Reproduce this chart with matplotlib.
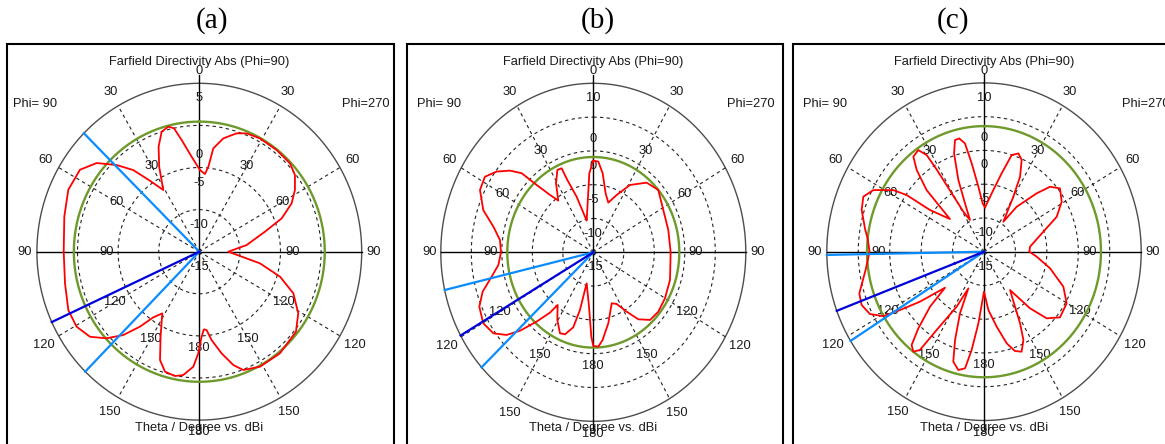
import numpy as np
import matplotlib
matplotlib.use("Agg")
import matplotlib.pyplot as plt
from matplotlib.patches import Rectangle
from matplotlib.transforms import offset_copy

# ---------------- data ----------------
panel_names = ["(a)", "(b)", "(c)"]
plot_title = "Farfield Directivity Abs (Phi=90)"
axis_caption = "Theta / Degree vs. dBi"
phi_left_label = "Phi= 90"
phi_right_label = "Phi=270"

theta_tick_angles = [0, 30, 60, 90, 120, 150, 180, 210, 240, 270, 300, 330]
theta_tick_labels = ["0", "30", "60", "90", "120", "150", "180",
                     "150", "120", "90", "60", "30"]

# panel (a): polar angle (deg, clockwise from top) and directivity (dBi)
a_angle = [0.5, 4.3, 6.3, 8.0, 12.4, 18.1, 22.5, 29.0, 38.3, 46.8, 52.3, 58.1,
           63.2, 68.7, 73.6, 82.3, 90.0, 95.8, 100.5, 106.6, 113.1, 121.0,
           128.6, 140.6, 151.3, 158.9, 162.7, 167.2, 171.8, 174.5, 176.5,
           178.4, 180.6, 183.1, 187.7, 191.5, 196.5, 200.6, 205.3, 211.9,
           216.0, 219.4, 223.4, 228.0, 233.1, 239.5, 246.7, 257.2, 270.0,
           284.1, 294.5, 303.5, 309.8, 315.3, 320.0, 324.2, 328.8, 333.9,
           338.1, 342.0, 345.6, 348.0, 350.7, 355.2]
a_db = [-5.3, -5.75, -4.85, -2.61, -1.22, -0.21, 0.21, 0.39, 0.38, 0.32,
        -0.11, -1.13, -2.26, -4.11, -6.57, -9.12, -11.43, -9.96, -7.4, -4.63,
        -2.41, -0.78, 0.23, 0.63, 0.57, 0.06, -0.9, -2.62, -4.4, -5.65,
        -5.76, -4.9, -2.93, -1.32, -0.22, 0.07, -0.14, -1.25, -3.84, -6.37,
        -5.36, -3.48, -1.38, 0.37, 1.83, 2.54, 2.56, 1.96, 1.7, 2.14,
        2.73, 2.63, 1.45, -0.52, -2.34, -4.61, -6.44, -3.77, -1.56, -0.01,
        0.33, -0.02, -1.56, -3.68]
a_green_db = 0.45
a_main_dir = 245.3
a_beam_dirs = [314.7, 224.6]
a_r_range = [-15, 5]
a_ring_db = [-10, -5, 0]
a_db_label_values = [5, -5, -10, -15]
a_db_labels = ["5", "-5", "-10", "-15"]

# panel (b)
b_angle = [0.0, 3.5, 7.5, 13.0, 18.5, 24.3, 31.1, 40.3, 49.1, 61.4, 75.0,
           90.0, 108.0, 120.1, 129.5, 137.1, 143.3, 148.1, 153.4, 158.2,
           166.8, 173.3, 176.6, 180.0, 181.5, 185.0, 193.4, 194.4, 196.5,
           200.9, 204.5, 210.5, 216.9, 218.5, 222.2, 226.0, 229.3, 233.8,
           239.8, 246.7, 252.2, 257.8, 263.1, 270.0, 276.8, 283.1, 289.1,
           296.4, 302.2, 307.0, 311.5, 314.9, 317.0, 320.1, 323.1, 329.1,
           334.2, 337.3, 338.3, 341.6, 346.9, 354.0, 356.8]
b_db = [-1.45, -1.56, -3.21, -6.04, -7.25, -5.7, -3.37, -1.49, -0.91, -1.93,
        -2.27, -2.32, -1.78, -1.42, -1.19, -1.34, -2.64, -4.66, -6.45, -6.88,
        -4.22, -1.94, -1.02, -1.14, -2.52, -6.94, -10.28, -6.19, -3.43, -2.01,
        -1.83, -3.38, -5.26, -3.6, -1.16, 1.70, 3.75, 5.30, 5.87, 5.35,
        4.05, 2.05, 0.68, 0.14, 0.41, 1.83, 4.09, 5.74, 5.99, 4.84,
        3.24, 1.57, -1.38, -3.94, -5.44, -3.1, -1.47, -1.53, -3.48, -6.33,
        -10.19, -6.72, -3.29]
b_green_db = -0.9
b_main_dir = 240.5
b_beam_dirs = [257.1, 227.1]
b_r_range = [-15, 10]
b_ring_db = [-10, -5, 0, 5]
b_db_label_values = [10, 0, -5, -10, -15]
b_db_labels = ["10", "0", "-5", "-10", "-15"]

# panel (c)
c_angle = [1.4, 9.2, 13.6, 17.1, 20.6, 23.8, 27.3, 29.8, 34.7, 38.0, 44.1,
           47.5, 52.2, 59.1, 65.9, 72.6, 84.2, 90.0, 95.0, 103.2, 112.3,
           120.2, 128.8, 134.7, 138.9, 143.9, 148.8, 151.6, 154.4, 158.0,
           161.5, 165.1, 169.7, 175.4, 180.0, 184.8, 187.7, 189.9, 193.1,
           196.7, 199.4, 202.7, 204.6, 208.1, 213.0, 215.0, 217.2, 219.8,
           222.6, 226.5, 229.3, 234.0, 237.1, 239.2, 243.0, 247.9, 252.7,
           262.0, 270.0, 276.0, 280.0, 287.6, 293.0, 297.4, 302.3, 304.3,
           305.7, 311.8, 313.6, 315.0, 318.5, 321.4, 325.2, 327.5, 328.3,
           329.3, 331.0, 334.6, 337.1, 339.0, 341.9, 344.4, 346.8, 349.3,
           351.5, 354.7, 358.3]
c_db = [-8.44, -5.75, -3.06, -0.03, 0.55, -0.16, -2.5, -5.61, -9.6, -6.55,
        -2.97, -0.76, 0.30, -0.6, -2.33, -5.11, -7.64, -7.79, -6.59, -4.21,
        -1.36, 0.21, 0.51, -0.97, -3.87, -7.97, -5.48, -2.94, -0.5, 0.97,
        0.51, -0.96, -3.71, -6.33, -9.08, -4.35, -0.31, 2.54, 2.99, 2.0,
        -1.13, -5.1, -9.03, -5.77, -1.17, 2.77, 3.59, 2.98, 0.43, -3.17,
        -6.82, -2.41, 0.91, 3.63, 5.35, 6.0, 5.77, 4.0, 3.2, 3.6,
        4.2, 5.41, 5.85, 4.83, 2.07, -0.11, -4.42, -7.74, -5.34, -2.09,
        1.15, 3.01, 3.33, 1.97, -0.75, -4.81, -8.22, -9.8, -7.23, -3.63,
        0.32, 2.16, 2.23, 1.32, -1.77, -5.34, -7.84]
c_green_db = 3.6
c_main_dir = 249.5
c_beam_dirs = [268.9, 238.1]
c_r_range = [-15, 10]
c_ring_db = [-10, -5, 0, 5]
c_db_label_values = [10, 0, -5, -10, -15]
c_db_labels = ["10", "0", "-5", "-10", "-15"]

# ---------------- layout (pixels, origin top-left) ----------------
W, H = 1165, 444
geoms = [
    dict(c=(199.3, 251.7, 162.4, 168.4), frame=(6.7, 394.0), name_x=211.8,
         phl=13.3, phr=341.7, inner=(0.572, 0.59, 0.60)),
    dict(c=(593.3, 252.3, 152.5, 169.0), frame=(406.7, 782.7), name_x=597.5,
         phl=417.3, phr=726.7, inner=(0.671, 0.69, 0.705)),
    dict(c=(984.0, 251.7, 157.2, 168.8), frame=(793.3, 1180.0), name_x=953.3,
         phl=802.7, phr=1121.7, inner=(0.671, 0.69, 0.705)),
]
outer_frac = {0: 1.073, 30: 1.095, 60: 1.09, 90: 1.075, 120: 1.108,
              150: 1.097, 180: 1.073}

panels = [
    dict(angle=a_angle, db=a_db, green=a_green_db, main=a_main_dir,
         beams=a_beam_dirs, rr=a_r_range, rings=a_ring_db,
         lv=a_db_label_values, lt=a_db_labels),
    dict(angle=b_angle, db=b_db, green=b_green_db, main=b_main_dir,
         beams=b_beam_dirs, rr=b_r_range, rings=b_ring_db,
         lv=b_db_label_values, lt=b_db_labels),
    dict(angle=c_angle, db=c_db, green=c_green_db, main=c_main_dir,
         beams=c_beam_dirs, rr=c_r_range, rings=c_ring_db,
         lv=c_db_label_values, lt=c_db_labels),
]

sans = dict(family="Liberation Sans", size=9.3, color="#1a1a1a")
serif = dict(family="Liberation Serif", size=21, color="black")

fig = plt.figure(figsize=(W / 100, H / 100), dpi=100)
fig.patch.set_facecolor("white")


def fx(px):
    return px / W


def fy(py):
    return 1 - py / H


for p, g in zip(panels, geoms):
    cx, cy, rx, ry = g["c"]
    # frame
    x0, x1 = g["frame"]
    fig.add_artist(Rectangle((fx(x0), fy(460)), (x1 - x0) / W, (460 - 44) / H,
                             transform=fig.transFigure, fill=False,
                             ec="black", lw=1.5))
    fig.text(fx(g["name_x"]), fy(20.8), panel_names[geoms.index(g)],
             ha="center", va="center", **serif)
    fig.text(fx(cx), fy(61.5), plot_title, ha="center", va="center", **sans)
    fig.text(fx(cx), fy(428.3), axis_caption, ha="center", va="center",
             **sans)
    fig.text(fx(g["phl"]), fy(104.3), phi_left_label, ha="left",
             va="center", **sans)
    fig.text(fx(g["phr"]), fy(104.3), phi_right_label, ha="left",
             va="center", **sans)

    ax = fig.add_axes([fx(cx - rx), fy(cy + ry), 2 * rx / W, 2 * ry / H],
                      projection="polar")
    ax.set_theta_zero_location("N")
    ax.set_theta_direction(-1)
    ax.set_aspect("auto")
    ax.set_autoscale_on(False)
    rmin, rmax = p["rr"]
    span = rmax - rmin
    ax.set_ylim(rmin, rmax)
    ax.axis("off")

    full = np.linspace(0, 2 * np.pi, 721)
    ax.plot(full, np.full_like(full, rmax), color="#4d4d4d", lw=1.0,
            clip_on=False, zorder=1)
    for r in p["rings"]:
        ax.plot(full, np.full_like(full, r), color="#222222", lw=0.8,
                ls=(0, (3, 3)), zorder=1)
    for t in [30, 60, 120, 150, 210, 240, 300, 330]:
        ax.plot([np.deg2rad(t)] * 2, [rmin, rmax], color="#222222", lw=0.8,
                ls=(0, (3, 3)), zorder=1)
    ext = rmin + 1.05 * span
    for t, rend in [(0, ext), (180, ext), (90, rmax), (270, rmax)]:
        ax.plot([np.deg2rad(t)] * 2, [rmin, rend], color="black", lw=1.0,
                clip_on=False, zorder=1.5)

    # theta labels (outer and inner)
    f_ax, f_d, f_l = g["inner"]
    inner_frac = {0: f_ax, 30: f_d, 60: f_d, 90: f_ax, 120: f_l, 150: f_l,
                  180: f_ax}
    for t, lab in zip(theta_tick_angles, theta_tick_labels):
        key = t if t <= 180 else 360 - t
        ax.text(np.deg2rad(t), rmin + outer_frac[key] * span, lab,
                ha="center", va="center", zorder=2, **sans)
        ax.text(np.deg2rad(t), rmin + inner_frac[key] * span, lab,
                ha="center", va="center", zorder=2, **sans)

    # radial dB labels
    tr = offset_copy(ax.transData, fig=fig, x=0, y=-15, units="dots")
    for v, s in zip(p["lv"], p["lt"]):
        ax.text(0, v, s, transform=tr, ha="center", va="center", zorder=2,
                **sans)

    # curves
    ax.plot(full, np.full_like(full, p["green"]), color="#6e9a2c", lw=1.7,
            zorder=3)
    th = np.deg2rad(np.array(p["angle"] + [p["angle"][0]]))
    rr = np.array(p["db"] + [p["db"][0]])
    ax.plot(th, rr, color="#ff0000", lw=1.3, zorder=4)
    for b in p["beams"]:
        ax.plot([np.deg2rad(b)] * 2, [rmin, rmax], color="#0a8cff", lw=1.6,
                zorder=5, clip_on=False)
    ax.plot([np.deg2rad(p["main"])] * 2, [rmin, rmax], color="#0000dd",
            lw=1.6, zorder=5, clip_on=False)

fig.savefig("out.png", dpi=100)
